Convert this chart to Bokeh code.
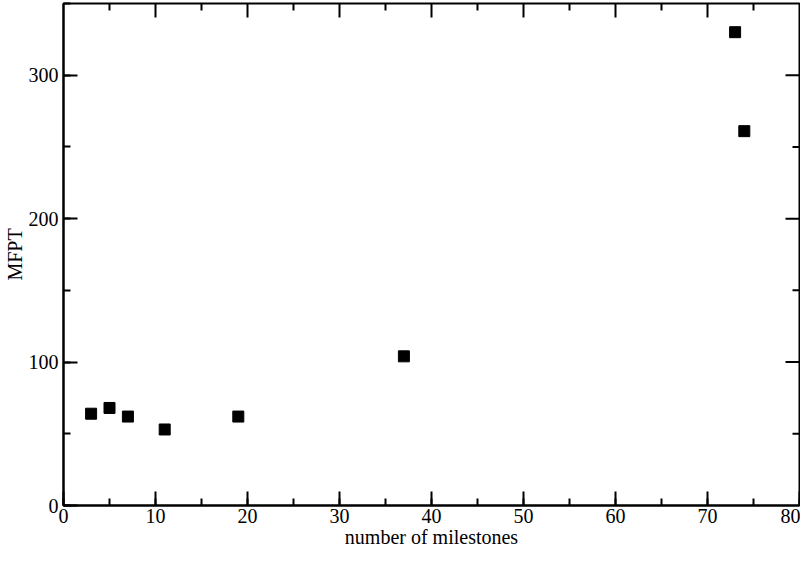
import math
from bokeh.plotting import figure
from bokeh.models import LinearAxis, SingleIntervalTicker, Range1d, ColumnDataSource
from bokeh.embed import file_html
from bokeh.resources import INLINE

milestones = [3, 5, 7, 11, 19, 37, 73, 74]
mfpt = [64, 68, 62, 53, 62, 104, 330, 261]

x_major = [10, 20, 30, 40, 50, 60, 70]
x_minor = [5, 15, 25, 35, 45, 55, 65, 75]
y_major = [100, 200, 300]
y_minor = [50, 150, 250]
X_MAX = 80
Y_MAX = 350

FONT = "Liberation Serif"

p = figure(width=800, height=550, output_backend="svg", toolbar_location=None,
           x_range=Range1d(0, X_MAX), y_range=Range1d(0, Y_MAX),
           x_axis_type=None, y_axis_type=None,
           min_border_left=0, min_border_right=1, min_border_top=3, min_border_bottom=0)
p.grid.visible = False
p.outline_line_color = "black"
p.outline_line_width = 2
p.background_fill_color = "white"
p.border_fill_color = "white"

src = ColumnDataSource(dict(x=milestones, y=mfpt))
p.scatter("x", "y", source=src, marker="square", size=11, fill_color="black", line_color="black")

# mirrored ticks on top and right edges
p.ray(x=x_major, y=[Y_MAX] * len(x_major), length=14, length_units="screen",
      angle=-math.pi / 2, line_color="black", line_width=2)
p.ray(x=x_minor, y=[Y_MAX] * len(x_minor), length=7, length_units="screen",
      angle=-math.pi / 2, line_color="black", line_width=2)
p.ray(x=[X_MAX] * len(y_major), y=y_major, length=14, length_units="screen",
      angle=math.pi, line_color="black", line_width=2)
p.ray(x=[X_MAX] * len(y_minor), y=y_minor, length=7, length_units="screen",
      angle=math.pi, line_color="black", line_width=2)

def style(ax):
    ax.axis_line_color = "black"
    ax.axis_line_width = 2
    ax.major_tick_in = 14
    ax.major_tick_out = 0
    ax.minor_tick_in = 7
    ax.minor_tick_out = 0
    ax.major_tick_line_width = 2
    ax.minor_tick_line_width = 2
    ax.major_tick_line_color = "black"
    ax.minor_tick_line_color = "black"
    ax.major_label_text_font = FONT
    ax.major_label_text_font_size = "20px"
    ax.major_label_text_color = "black"
    ax.axis_label_text_font = FONT
    ax.axis_label_text_font_size = "20px"
    ax.axis_label_text_font_style = "normal"
    ax.axis_label_text_color = "black"

xb = LinearAxis(ticker=SingleIntervalTicker(interval=10, num_minor_ticks=2),
                axis_label="number of milestones")
style(xb)
xb.major_label_standoff = 3
xb.axis_label_standoff = 0
p.add_layout(xb, "below")

yl = LinearAxis(ticker=SingleIntervalTicker(interval=100, num_minor_ticks=2),
                axis_label="MFPT")
style(yl)
yl.major_label_standoff = 5
yl.axis_label_standoff = 0
p.add_layout(yl, "left")

open("out.html", "w").write(file_html(p, INLINE))
